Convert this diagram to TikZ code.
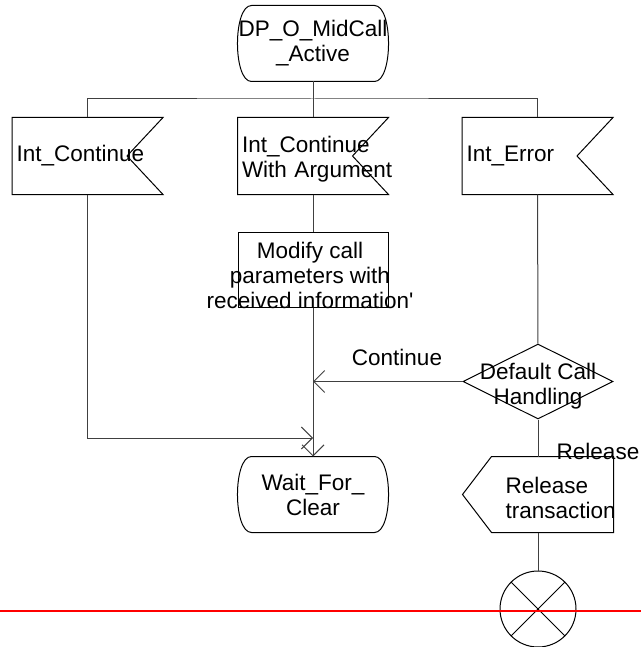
\documentclass[tikz,border=0pt]{standalone}
\usepackage{fontspec}
\setmainfont{Liberation Sans}
\usetikzlibrary{arrows.meta,shapes.geometric}

\begin{document}
\begin{tikzpicture}[x=1pt,y=-1pt,line width=1pt,
    every node/.style={inner sep=0pt,font=\fontsize{22.5}{25}\selectfont},
    statebox/.style={text width=150pt,minimum height=75pt,align=center},
    inbox/.style={text width=142pt,inner xsep=4pt,minimum height=76pt,align=left},
    outbox/.style={minimum width=150pt,minimum height=75pt},
    taskbox/.style={draw,minimum width=150pt,minimum height=75pt},
    decision/.style={diamond,draw,minimum width=150pt,minimum height=75pt},
    flow/.style={draw=black!75},
    arr/.style={flow,-{Straight Barb[length=11pt,width=22pt]}}]
    \useasboundingbox (0,0) rectangle (641,647);

    % States
    \node[statebox] (midcall) at (313,43.5) {DP\_O\_MidCall\\\_Active};
    \node[statebox] (wait) at (313,494.5) {Wait\_For\_\\Clear};
    \foreach \n in {midcall,wait}
      \draw ([xshift=14]\n.north west) -- ([xshift=-14]\n.north east)
        .. controls ([xshift=4.7]\n.north east) and ([xshift=4.7]\n.south east) .. ([xshift=-14]\n.south east)
        -- ([xshift=14]\n.south west)
        .. controls ([xshift=-4.7]\n.south west) and ([xshift=-4.7]\n.north west) .. ([xshift=14]\n.north west) -- cycle;

    % Inputs
    \node[inbox] (cont) at (87.5,156) {Int\_Continue};
    \node[inbox] (contarg) at (313,156) {\mbox{}\\[-2pt]Int\_Continue\\\mbox{With Argument}};
    \node[inbox] (err) at (537.5,156) {Int\_Error};
    \foreach \n in {cont,contarg,err}
      \draw (\n.north west) -- (\n.north east) -- ([xshift=-36]\n.east)
        -- (\n.south east) -- (\n.south west) -- cycle;

    % Task
    \node[taskbox] (modify) at (313,269.5) {};
    \node[align=center] (modtxt) at (310,275) {Modify call\\parameters with\\received information\textquotesingle};

    % Decision
    \node[decision] (dch) at (538,381.5) {};
    \node[align=center] (dchtxt) at (538,386) {Default Call\\Handling};
    \node (contlbl) at (397,357.5) {Continue};
    \node (rellbl) at (598,451) {Release};

    % Output
    \node[outbox] (rel) at (538,494.5) {};
    \draw ([xshift=29]rel.north west) -- (rel.north east) -- (rel.south east)
      -- ([xshift=29]rel.south west) -- (rel.west) -- cycle;
    \node[anchor=west,align=left] (reltxt) at (505,498) {Release\\transaction};

    % Stop
    \node[circle,draw,minimum size=76pt] (stop) at (538,609) {};
    \draw (stop.north west) -- (stop.south east) (stop.north east) -- (stop.south west);

    % Connectors
    \coordinate (bus) at (313,99);
    \coordinate (join) at (313,438);
    \draw[flow] (midcall) -- (contarg);
    \draw[flow] (cont.north) |- (bus) -| (err.north);
    \draw[arr] (cont.south) |- (join);
    \draw[flow] (contarg) -- (modify);
    \draw[arr] (modify) -- (wait);
    \draw[flow] (err) -- (dch);
    \draw[arr] (dch.west) -- (dch.west -| modify.south);
    \draw[flow] (dch) -- (rel);
    \draw[flow] (rel) -- (stop);

    \draw[red,line width=2pt] (0,611) -- (641,611);
\end{tikzpicture}
\end{document}
